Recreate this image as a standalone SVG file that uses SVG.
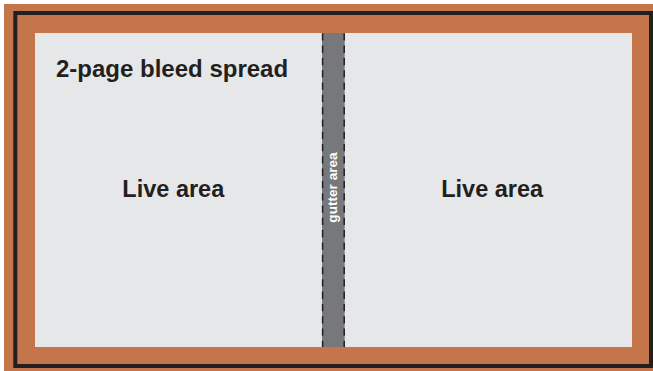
<svg xmlns="http://www.w3.org/2000/svg" width="653" height="371" viewBox="0 0 653 371">
<style>
.lbl{font-family:"Liberation Sans",Arial,Helvetica,sans-serif;font-weight:bold;fill:#231f20}
.gut{font-family:"Liberation Sans",Arial,Helvetica,sans-serif;font-weight:bold;fill:#ffffff}
.dash{stroke:#231f20;stroke-width:1.5;stroke-dasharray:7.3 5;fill:none}
</style>
<rect x="4" y="4" width="649" height="367" fill="#c4764a"/>
<rect x="15.3" y="13" width="635.7" height="353" fill="none" stroke="#231f20" stroke-width="4"/>
<g id="spread">
<rect x="35" y="33" width="597" height="314" fill="#e6e7e8"/>
<text class="lbl" x="56" y="76.7" font-size="24">2-page bleed spread</text>
</g>
<g id="live-left">
<text class="lbl" x="173.3" y="197.3" font-size="23.5" text-anchor="middle">Live area</text>
</g>
<g id="live-right">
<text class="lbl" x="492.2" y="197.3" font-size="23.5" text-anchor="middle">Live area</text>
</g>
<g id="gutter">
<rect x="322" y="33" width="22.7" height="314" fill="#77787b"/>
<text class="gut" transform="translate(336.5,187.5) rotate(-90)" font-size="13.6" text-anchor="middle">gutter area</text>
</g>
<g id="connectors">
<line class="dash" x1="322.6" y1="33.3" x2="322.6" y2="347"/>
<line class="dash" x1="344.2" y1="33.3" x2="344.2" y2="347"/>
</g>
</svg>
